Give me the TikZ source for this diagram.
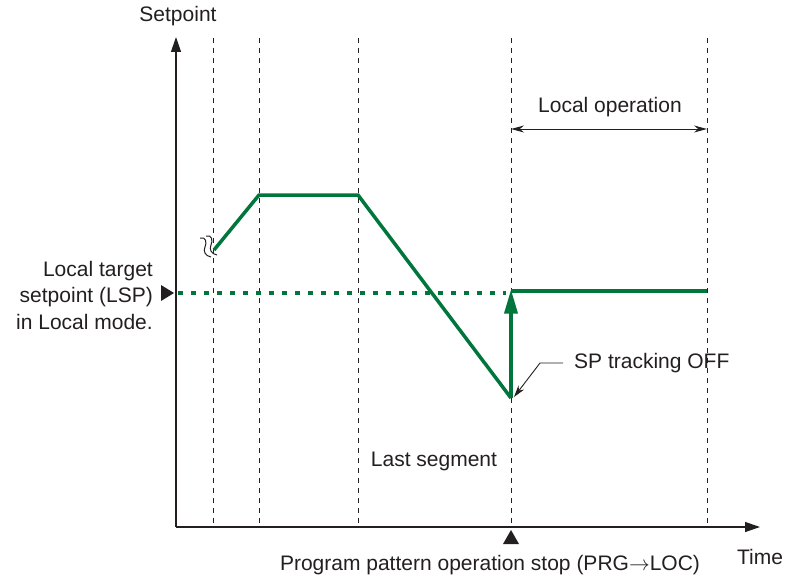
\documentclass[tikz,border=0pt]{standalone}
\usepackage{fontspec}
\setmainfont{Liberation Sans}
\usetikzlibrary{arrows.meta}
\definecolor{sgreen}{RGB}{0,118,60}
\definecolor{ink}{RGB}{35,31,32}
\begin{document}
\begin{tikzpicture}[x=1pt,y=-1pt,
  txt/.style={font=\fontsize{21}{26.5}\selectfont,text=ink,inner sep=0pt},
  axis/.style={draw=ink,line width=1.3pt,-{Triangle[length=15pt,width=10pt]}},
  vdash/.style={draw=ink,line width=0.8pt,dash pattern=on 5pt off 5pt},
  sp/.style={draw=sgreen,line width=3.5pt},
  spdot/.style={draw=sgreen,line width=3.5pt,dash pattern=on 5pt off 8pt},
  marker/.style={fill=ink,draw=none},
  brk/.style={draw=ink,line width=1pt}
]
\useasboundingbox (0,0) rectangle (786,578);
% coordinates
\coordinate (o) at (176,527);
\coordinate (ytop) at (176,37);
\coordinate (xend) at (760,527);
\foreach \n/\x in {a/213,b/259,c/358,d/511,e/707}{
  \coordinate (\n t) at (\x,38);
  \coordinate (\n b) at (\x,527);
}
% dashed verticals
\foreach \n in {a,b,c,d,e}{\draw[vdash] (\n t) -- (\n b);}
% axes
\draw[axis] (o) -- (ytop);
\draw[axis] (o) -- (xend);
% texts
\node[txt] (setpoint) at (178,16) {Setpoint};
\node[txt] (time) at (760,557) {Time};
\node[txt,align=right,anchor=east] (lsp) at (153,295) {Local target\\setpoint (LSP)\\in Local mode.};
\node[txt] (localop) at (610,107) {Local operation};
\node[txt] (last) at (434,461) {Last segment};
\node[txt,anchor=west] (sptrack) at (574,363) {SP tracking OFF};
\node[txt] (stop) at (490,565) {Program pattern operation stop (PRG$\rightarrow$LOC)};
% markers
\fill[marker] (161,285) -- (174,293) -- (161,301) -- cycle;
\fill[marker] (503,544) -- (511,530) -- (519,544) -- cycle;
% setpoint profile
\coordinate (p0) at (214,250);
\coordinate (p1) at (259,195);
\coordinate (p2) at (358,195);
\coordinate (p3) at (511,398);
\coordinate (p4) at (511,291);
\coordinate (p5) at (707,291);
\coordinate (l0) at (178,293);
\draw[sp,line join=miter] (p0) -- (p1) -- (p2) -- (p3);
\draw[spdot] (l0) -- (506,293);
\draw[sp] (p4) -- (p5);
\draw[sp,-{Triangle[length=24pt,width=13pt]}] (p3) -- ([yshift=1.5pt]p4);
% break mark
\draw[brk] (200,238) .. controls (206,236) and (207,243) .. (205,247) .. controls (203,251) and (205,256) .. (211,257);
\draw[brk] (206,236) .. controls (212,234) and (213,241) .. (211,245) .. controls (209,249) and (211,254) .. (217,255);
% local operation span
\coordinate (lo1) at (511,129);
\coordinate (lo2) at (707,129);
\draw[ink,line width=1pt,{Stealth[length=13pt,width=7pt]}-{Stealth[length=13pt,width=7pt]}] (lo1) -- (lo2);
% SP tracking leader
\coordinate (k1) at (563,363);
\coordinate (k2) at (540,363);
\coordinate (k3) at (514,397);
\draw[ink,line width=0.9pt,-{Stealth[length=12pt,width=7pt]}] (k1) -- (k2) -- (k3);
\end{tikzpicture}
\end{document}
